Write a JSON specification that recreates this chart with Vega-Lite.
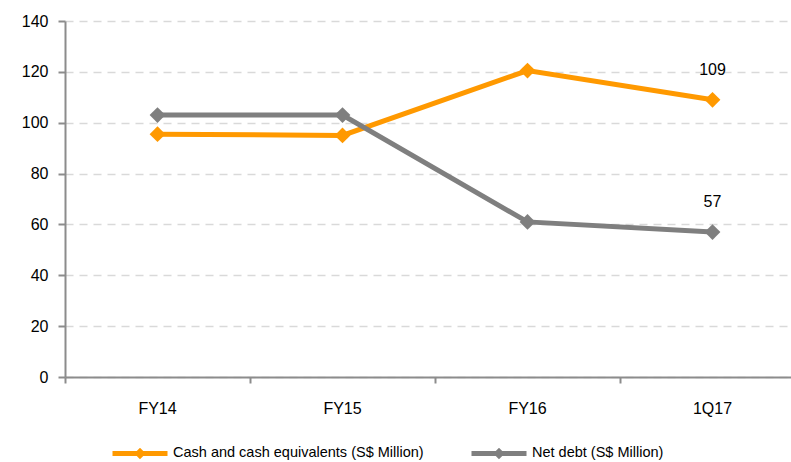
{
  "$schema": "https://vega.github.io/schema/vega-lite/v6.json",
  "autosize": {"type": "none"},
  "padding": {"left": 65, "top": 21, "right": 0, "bottom": 85},
  "width": 740,
  "height": 356,
  "background": "white",
  "config": {
    "font": "Liberation Sans",
    "view": {"stroke": null}
  },
  "data": {
    "values": [
      {"period": "FY14", "series": "Cash and cash equivalents (S$ Million)", "value": 95.5},
      {"period": "FY15", "series": "Cash and cash equivalents (S$ Million)", "value": 95},
      {"period": "FY16", "series": "Cash and cash equivalents (S$ Million)", "value": 120.5},
      {"period": "1Q17", "series": "Cash and cash equivalents (S$ Million)", "value": 109},
      {"period": "FY14", "series": "Net debt (S$ Million)", "value": 103},
      {"period": "FY15", "series": "Net debt (S$ Million)", "value": 103},
      {"period": "FY16", "series": "Net debt (S$ Million)", "value": 61},
      {"period": "1Q17", "series": "Net debt (S$ Million)", "value": 57}
    ]
  },
  "encoding": {
    "x": {
      "field": "period", "type": "nominal", "sort": ["FY14", "FY15", "FY16", "1Q17"],
      "scale": {"type": "band", "paddingInner": 0, "paddingOuter": 0},
      "axis": {
        "title": null, "labelAngle": 0, "bandPosition": 0,
        "domainColor": "#8c8c8c", "domainWidth": 2,
        "tickColor": "#8c8c8c", "tickWidth": 2, "tickSize": 6,
        "labelFontSize": 16, "labelColor": "#000000", "labelPadding": 17,
        "labelFont": "Liberation Sans", "grid": false
      }
    },
    "y": {
      "field": "value", "type": "quantitative",
      "scale": {"domain": [0, 140], "nice": false},
      "axis": {
        "title": null, "values": [0, 20, 40, 60, 80, 100, 120, 140],
        "domainColor": "#8c8c8c", "domainWidth": 2,
        "tickColor": "#8c8c8c", "tickWidth": 2, "tickSize": 7,
        "labelFontSize": 16, "labelColor": "#000000", "labelPadding": 10,
        "labelFont": "Liberation Sans",
        "grid": true, "gridColor": "#d9d9d9", "gridDash": [8, 6], "gridWidth": 1.5
      }
    }
  },
  "layer": [
    {
      "mark": {"type": "line", "strokeWidth": 5},
      "encoding": {
        "color": {
          "field": "series", "type": "nominal",
          "scale": {"domain": ["Cash and cash equivalents (S$ Million)", "Net debt (S$ Million)"], "range": ["#ff9900", "#7f7f7f"]},
          "legend": {
            "title": null, "orient": "none", "direction": "horizontal",
            "legendX": 45, "legendY": 402,
            "symbolType": "M-1,0H1M-0.08,0L0,-0.08L0.08,0L0,0.08Z",
            "symbolSize": 3025, "symbolStrokeWidth": 5,
            "labelFontSize": 14.5, "labelColor": "#000000", "labelFont": "Liberation Sans",
            "labelOffset": 3, "columnPadding": 37, "labelLimit": 400,
            "encode": {"symbols": {"update": {"fill": {"scale": "color", "field": "value"}}}}
          }
        }
      }
    },
    {
      "mark": {"type": "point", "shape": "diamond", "filled": true, "size": 250, "opacity": 1},
      "encoding": {
        "color": {
          "field": "series", "type": "nominal",
          "scale": {"domain": ["Cash and cash equivalents (S$ Million)", "Net debt (S$ Million)"], "range": ["#f7964a", "#7f7f7f"]},
          "legend": null
        }
      }
    },
    {
      "transform": [{"filter": "datum.period == '1Q17'"}],
      "mark": {"type": "text", "dy": -30, "fontSize": 16, "color": "#000000", "font": "Liberation Sans"},
      "encoding": {"text": {"field": "value", "type": "quantitative"}}
    }
  ]
}
